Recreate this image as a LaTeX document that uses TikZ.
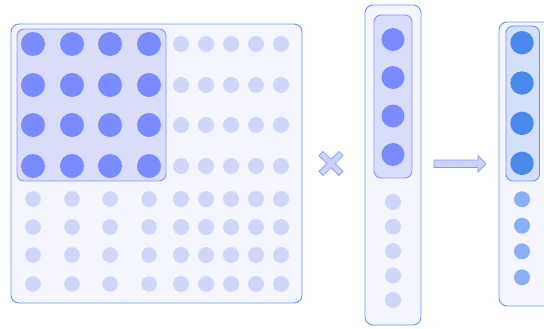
\documentclass[tikz,border=0pt]{standalone}
\begin{document}
\begin{tikzpicture}[x=1pt,y=-1pt,
  panel/.style={fill=panelfill,draw=panelline,line width=0.9pt,rounded corners=8pt},
  hilite/.style={fill=hifill,draw=hiline,line width=0.9pt,rounded corners=7pt},
  hiliteb/.style={fill=hifillb,draw=panelline,line width=0.9pt,rounded corners=7pt},
  bigdot/.style={fill=bigdotc},
  lightdot/.style={fill=lightdotc},
  outdot/.style={fill=outdotc},
  outsmall/.style={fill=outsmallc},
  symb/.style={fill=symfill,draw=symline,line width=0.7pt}]
\definecolor{panelfill}{HTML}{F4F5FE}
\definecolor{panelline}{HTML}{6A95F0}
\definecolor{hifill}{HTML}{D9DDFA}
\definecolor{hiline}{HTML}{8C96F6}
\definecolor{hifillb}{HTML}{D4E0FA}
\definecolor{bigdotc}{HTML}{798BFF}
\definecolor{lightdotc}{HTML}{D0D5FA}
\definecolor{outdotc}{HTML}{4A88EE}
\definecolor{outsmallc}{HTML}{8AAFF5}
\definecolor{symfill}{HTML}{CDD2FA}
\definecolor{symline}{HTML}{8C96F6}
\useasboundingbox (0,0) rectangle (544,329);
\clip (0,0) rectangle (544,329);
% matrix
\draw[panel] (11,24) rectangle (302,303);
\draw[hilite] (17,29) rectangle (166,181);
\foreach \x in {33,72,110,149}
  \foreach \y in {44,85,125,166}
    \fill[bigdot] (\x,\y) circle (12);
\foreach \x in {181,206,231,256,281}
  \foreach \y in {44,85,125,166,199,227,255,284}
    \fill[lightdot] (\x,\y) circle (8);
\foreach \x in {33,72,110,149}
  \foreach \y in {199,227,255,284}
    \fill[lightdot] (\x,\y) circle (7.8);
% times sign
\begin{scope}[shift={(331,163.5)},rotate=45]
  \draw[symb] (14,3) -- (3,3) -- (3,14) -- (-3,14) -- (-3,3) -- (-14,3) -- (-14,-3)
    -- (-3,-3) -- (-3,-14) -- (3,-14) -- (3,-3) -- (14,-3) -- cycle;
\end{scope}
% vector
\draw[panel] (365,5) rectangle (421,325);
\draw[hilite] (374,15) rectangle (412,178);
\foreach \y in {39.5,77.5,116,154.5}
  \fill[bigdot] (393,\y) circle (11.5);
\foreach \y in {202,226.5,251,275.5,300}
  \fill[lightdot] (393,\y) circle (8);
% arrow
\draw[symb] (434,160) -- (478,160) -- (478,155.5) -- (486,163.8) -- (478,172) -- (478,167.5) -- (434,167.5) -- cycle;
% result
\draw[panel] (499,22) rectangle (552,306);
\draw[hiliteb] (506,26) rectangle (539.5,181);
\foreach \y in {42.7,83,123.3,163.3}
  \fill[outdot] (522,\y) circle (11.7);
\foreach \y in {199.3,225.7,251.3,277.3}
  \fill[outsmall] (522,\y) circle (8);
\end{tikzpicture}
\end{document}
